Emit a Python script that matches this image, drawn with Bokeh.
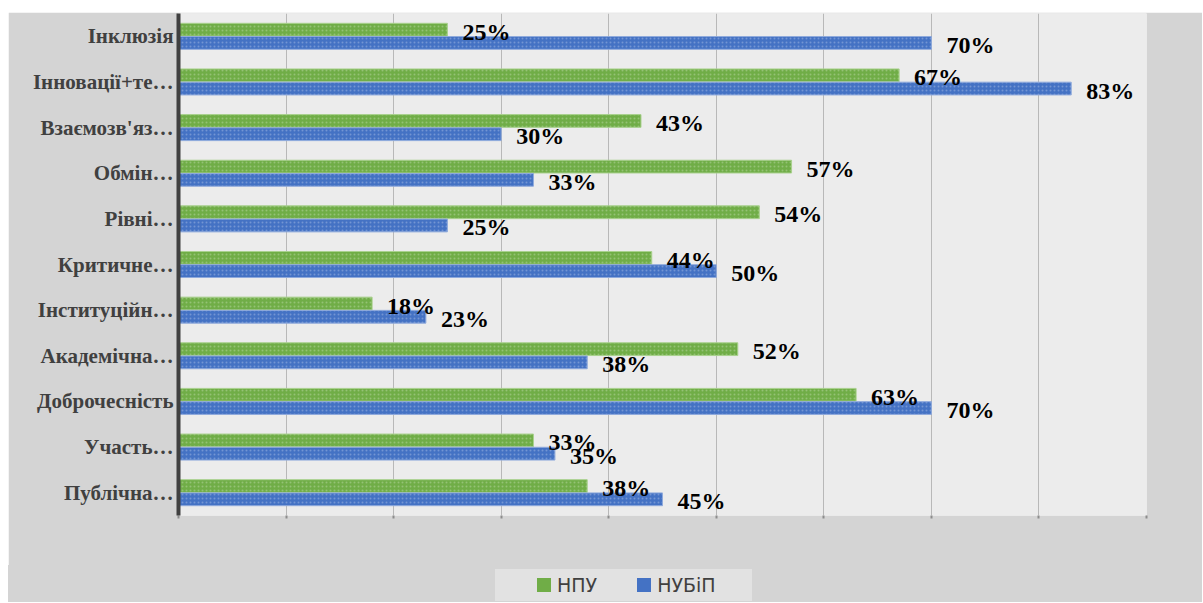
from bokeh.plotting import figure
from bokeh.layouts import column
from bokeh.models import (FactorRange, Range1d, ColumnDataSource, FixedTicker,
                          Div)
from bokeh.transform import dodge
from bokeh.core.properties import value
from bokeh.embed import file_html
from bokeh.resources import INLINE

# ---- data (top to bottom as shown) ----
categories = ["Інклюзія", "Інновації+те…", "Взаємозв'яз…", "Обмін…", "Рівні…",
              "Критичне…", "Інституційн…", "Академічна…", "Доброчесність",
              "Участь…", "Публічна…"]
npu = [25, 67, 43, 57, 54, 44, 18, 52, 63, 33, 38]
nubip = [70, 83, 30, 33, 25, 50, 23, 38, 70, 35, 45]
series = ["НПУ", "НУБіП"]
x_ticks = [0, 10, 20, 30, 40, 50, 60, 70, 80, 90]

GREEN = "#70ad47"
BLUE = "#4472c4"
OUTER = "#d4d4d4"
colors = [GREEN, BLUE]

src = ColumnDataSource(dict(
    cat=categories,
    npu=npu,
    nubip=nubip,
    npu_lbl=[f"{v}%" for v in npu],
    nubip_lbl=[f"{v}%" for v in nubip],
))

p = figure(
    width=1194, height=553,
    y_range=FactorRange(*list(reversed(categories)), range_padding=0),
    x_range=Range1d(0, 90),
    output_backend="svg", toolbar_location=None,
    min_border_left=170, min_border_right=56,
    min_border_top=1, min_border_bottom=50,
)
p.margin = (12, 0, 0, 8)
p.background_fill_color = "#ececec"
p.border_fill_color = OUTER
p.outline_line_color = None

bar_h = 0.28
off = 0.145
p.hbar(y=dodge("cat", off, range=p.y_range), right="npu", left=0,
       height=bar_h, source=src, fill_color=GREEN, line_color="#a9d18e",
       line_width=1, hatch_pattern="dot", hatch_color="#ffffff",
       hatch_alpha=0.25, hatch_scale=4)
p.hbar(y=dodge("cat", -off, range=p.y_range), right="nubip", left=0,
       height=bar_h, source=src, fill_color=BLUE, line_color="#8faadc",
       line_width=1, hatch_pattern="dot", hatch_color="#ffffff",
       hatch_alpha=0.25, hatch_scale=4)

p.text(x="npu", y=dodge("cat", off, range=p.y_range), text="npu_lbl",
       source=src, x_offset=15, y_offset=2, text_align="left",
       text_baseline="middle", text_font=value("Liberation Serif"),
       text_font_style="bold", text_font_size="24px", text_color="#000000")
p.text(x="nubip", y=dodge("cat", -off, range=p.y_range), text="nubip_lbl",
       source=src, x_offset=15, y_offset=2, text_align="left",
       text_baseline="middle", text_font=value("Liberation Serif"),
       text_font_style="bold", text_font_size="24px", text_color="#000000")

# grid
p.ygrid.grid_line_color = None
p.xgrid.ticker = FixedTicker(ticks=x_ticks)
p.xgrid.grid_line_color = "#b8b8b8"
p.xgrid.grid_line_width = 1

# x axis: ticks only
p.xaxis.ticker = FixedTicker(ticks=x_ticks)
p.xaxis.axis_line_color = None
p.xaxis.major_tick_line_color = "#8c8c8c"
p.xaxis.major_tick_line_width = 2
p.xaxis.major_tick_out = 3
p.xaxis.major_tick_in = 0
p.xaxis.minor_tick_line_color = None
p.xaxis.major_label_text_font_size = "0px"
p.xaxis.major_label_text_color = None

# y axis
p.yaxis.axis_line_color = "#404040"
p.yaxis.axis_line_width = 4
p.yaxis.major_tick_line_color = None
p.yaxis.major_tick_out = 0
p.yaxis.major_tick_in = 0
p.yaxis.minor_tick_line_color = None
p.yaxis.major_label_text_font = "Liberation Serif"
p.yaxis.major_label_text_font_style = "bold"
p.yaxis.major_label_text_font_size = "21px"
p.yaxis.major_label_text_color = "#404040"
p.yaxis.major_label_standoff = 5

# ---- legend strip below the chart ----
items_html = ""
for i, (name, col) in enumerate(zip(series, colors)):
    lead = 42 if i == 0 else 40
    items_html += (
        f'<span style="display:inline-block;width:14px;height:14px;'
        f'background:{col};margin-left:{lead}px;margin-right:6px;"></span>'
        f'<span>{name}</span>'
    )
legend_html = (
    f'<div style="position:relative;width:1194px;height:37px;'
    f'background:{OUTER};">'
    f'<div style="position:absolute;left:487px;top:4px;width:257px;'
    f'height:32px;background:#e2e2e2;display:flex;align-items:center;'
    f"font-family:'DejaVu Sans';font-size:19px;color:#404040;"
    f'line-height:32px;">{items_html}</div></div>'
)
legend_div = Div(text=legend_html, width=1194, height=37,
                 margin=(0, 0, 0, 8))

layout = column(p, legend_div, spacing=0)
open("out.html", "w").write(file_html(layout, INLINE))
